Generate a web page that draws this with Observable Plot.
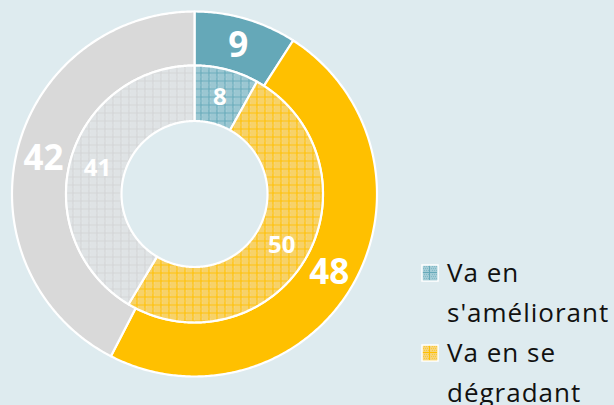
<!DOCTYPE html>
<html>
<head>
<meta charset="utf-8">
<script src="https://cdn.jsdelivr.net/npm/d3@7"></script>
<script src="https://cdn.jsdelivr.net/npm/@observablehq/plot@0.6"></script>
<style>
  html, body { margin: 0; padding: 0; background: #deebef; }
  #wrap { position: relative; width: 614px; height: 405px; overflow: hidden; }
  #legend { position: absolute; left: 421px; top: 252px; font-family: "Open Sans", sans-serif; font-size: 26px; letter-spacing: 1px; color: #111; line-height: 40px; }
  .item { position: relative; padding-left: 26px; width: 167px; }
  .sw { position: absolute; left: 0; top: 12px; width: 18px; height: 18px; }
</style>
</head>
<body>
<div id="wrap"><div id="chart"></div>
<div id="legend"></div></div>
<script>
// ---- data ----
const categories = ["Va en s'améliorant", "Va en se dégradant", "Autre"];
const outerValues = [9, 48, 42];
const innerValues = [8, 50, 41];
const legendLabels = ["Va en s'améliorant", "Va en se dégradant"];

// ---- styling ----
const solid = ["#65a8b8", "#ffc000", "#d9d9d9"];
const patBg = ["#a3ccd6", "#f6d47a", "#e1e5e7"];
const patFg = ["#66a9b9", "#ffc000", "#d2d4d5"];
const R_OUT = 1, R_MID = 0.704, R_IN = 0.40;
const CX = 194, CY = 193.5, RPX = 182.5;

function ringPolys(values, r0, r1, ring, fills) {
  const total = d3.sum(values);
  const pts = [];
  const labels = [];
  let acc = 0;
  values.forEach((v, i) => {
    const a0 = acc / total * 2 * Math.PI;
    acc += v;
    const a1 = acc / total * 2 * Math.PI;
    const id = ring + i;
    const n = Math.max(8, Math.ceil((a1 - a0) / 0.01));
    const poly = [];
    for (let k = 0; k <= n; k++) { const a = a0 + (a1 - a0) * k / n; poly.push([r1 * Math.sin(a), r1 * Math.cos(a)]); }
    for (let k = n; k >= 0; k--) { const a = a0 + (a1 - a0) * k / n; poly.push([r0 * Math.sin(a), r0 * Math.cos(a)]); }
    poly.push(poly[0]);
    poly.forEach(([x, y]) => pts.push({x, y, id, fill: fills[i]}));
    const am = (a0 + a1) / 2, rm = (r0 + r1) / 2;
    labels.push({x: rm * Math.sin(am), y: rm * Math.cos(am), text: String(v)});
  });
  return {pts, labels};
}

const outer = ringPolys(outerValues, R_MID, R_OUT, "o", solid);
const inner = ringPolys(innerValues, R_IN, R_MID, "i", ["url(#pat0)", "url(#pat1)", "url(#pat2)"]);

const chart = Plot.plot({
  width: 614, height: 405,
  margin: 0,
  style: {background: "transparent", overflow: "visible"},
  x: {domain: [-1, 1], range: [CX - RPX, CX + RPX], axis: null},
  y: {domain: [-1, 1], range: [CY + RPX, CY - RPX], axis: null},
  color: {type: "identity"},
  marks: [
    Plot.line(outer.pts, {x: "x", y: "y", z: "id", fill: "fill", stroke: "#fff", strokeWidth: 2.2, strokeLinejoin: "round", curve: "linear"}),
    Plot.line(inner.pts, {x: "x", y: "y", z: "id", fill: "fill", stroke: "#fff", strokeWidth: 2.2, strokeLinejoin: "round", curve: "linear"}),
    Plot.text(outer.labels, {x: "x", y: "y", text: "text", fill: "#fff", fontSize: 35, fontWeight: "bold", fontFamily: "Open Sans", dy: 1}),
    Plot.text(inner.labels, {x: "x", y: "y", text: "text", fill: "#fff", fontSize: 24, fontWeight: "bold", fontFamily: "Open Sans", dy: 1})
  ]
});

// patterns
const ns = "http://www.w3.org/2000/svg";
const defs = document.createElementNS(ns, "defs");
let pdef = "";
for (let i = 0; i < 3; i++) {
  let dots = "";
  for (let yy = 0; yy < 8; yy += 2) for (let xx = (yy % 4 === 0 ? 2 : 3); xx < 8; xx += 2) {
    if (xx === 0 || yy === 0) continue;
    dots += `<rect x="${xx}" y="${yy}" width="1" height="1" fill="${patFg[i]}" opacity="0.55"/>`;
  }
  pdef += `<pattern id="pat${i}" width="8" height="8" patternUnits="userSpaceOnUse">
    <rect width="8" height="8" fill="${patBg[i]}"/>${dots}
    <rect x="0" y="0" width="8" height="1" fill="${patFg[i]}"/>
    <rect x="0" y="0" width="1" height="8" fill="${patFg[i]}"/></pattern>`;
}
defs.innerHTML = pdef;
chart.insertBefore(defs, chart.firstChild);
document.getElementById("chart").appendChild(chart);

// legend
const leg = document.getElementById("legend");
legendLabels.forEach((lab, i) => {
  const div = document.createElement("div");
  div.className = "item";
  div.innerHTML = `<svg class="sw" width="18" height="18"><rect x="1" y="1" width="16" height="16" fill="url(#pat${i})" stroke="#fff" stroke-width="1.5"/></svg>`;
  const span = document.createElement("span");
  span.textContent = lab;
  div.appendChild(span);
  leg.appendChild(div);
});
</script>
</body>
</html>
